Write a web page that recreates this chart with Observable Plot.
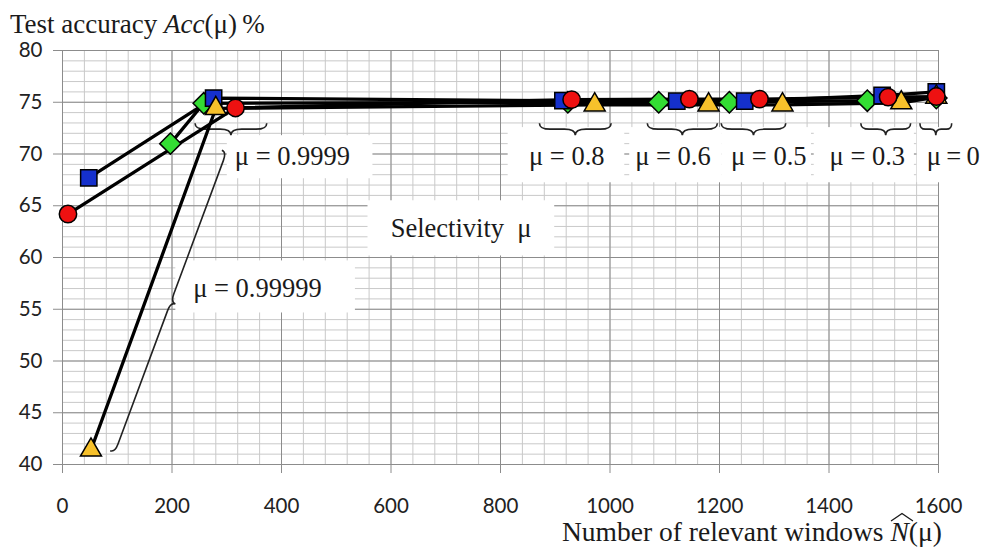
<!DOCTYPE html>
<html>
<head>
<meta charset="utf-8">
<script src="https://cdn.jsdelivr.net/npm/d3@7"></script>
<script src="https://cdn.jsdelivr.net/npm/@observablehq/plot@0.6"></script>
<style>
html, body { margin: 0; padding: 0; background: #fff; }
#wrap { position: relative; width: 982px; height: 548px; overflow: hidden; background: #fff; }
#chart { position: absolute; left: 0; top: 0; }
.serif { font-family: "Liberation Serif", "Times New Roman", serif; color: #1a1a1a; position: absolute; white-space: nowrap; line-height: 1; }
#title { left: 10px; top: 11px; font-size: 27px; }
#xlabel { left: 562px; top: 518px; font-size: 27.5px; }
.hat { position: relative; display: inline-block; font-style: italic; }
.hat svg { position: absolute; left: 1px; top: -5px; overflow: visible; }
#chart svg [aria-label="x-axis"] line, #chart svg [aria-label="y-axis"] line,
#chart svg [aria-label="x-axis tick"] path, #chart svg [aria-label="y-axis tick"] path { stroke: #8c8c8c; }
</style>
</head>
<body>
<div id="wrap">
  <div id="chart"></div>
  <div id="title" class="serif">Test accuracy <i>Acc</i>(μ)&#8201;%</div>
  <div id="xlabel" class="serif">Number of relevant windows <span class="hat">N<svg width="22" height="10"><path d="M0,8 Q6,4 11,0.5 Q16,4 22,8" fill="none" stroke="#1a1a1a" stroke-width="1.3"/></svg></span>(μ)</div>
</div>
<script>
// ---- data ----
const muLevels = ["0.99999", "0.9999", "0.8", "0.6", "0.5", "0.3", "0"];
const blueN    = [48, 276, 914, 1122, 1246, 1497, 1596];
const blueAcc  = [67.7, 75.4, 75.15, 75.1, 75.1, 75.65, 76.0];
const greenN   = [197, 258, 923, 1089, 1218, 1470, 1596];
const greenAcc = [71.0, 74.9, 75.0, 75.0, 75.0, 75.15, 75.4];
const yellowN  = [52, 280, 972, 1180, 1315, 1532, 1596];
const yellowAcc= [41.4, 74.4, 74.75, 74.75, 74.75, 74.95, 75.5];
const redN     = [10, 316, 930, 1145, 1273, 1508, 1596];
const redAcc   = [64.2, 74.45, 75.25, 75.3, 75.3, 75.5, 75.55];

const xTickValues = [0, 200, 400, 600, 800, 1000, 1200, 1400, 1600];
const yTickValues = [40, 45, 50, 55, 60, 65, 70, 75, 80];

// annotation texts and anchors (data coordinates)
const labelText = ["μ = 0.9999", "μ = 0.8", "μ = 0.6", "μ = 0.5", "μ = 0.3", "μ\u2009=\u20090", "Selectivity\u00a0\u00a0μ", "μ = 0.99999"];
const labelN    = [420, 921, 1115, 1290, 1470, 1627, 728, 356];
const labelAcc  = [69.8, 69.8, 69.8, 69.8, 69.8, 69.8, 62.77, 56.96];
// white label boxes (data coordinates)
const boxN1   = [301, 814, 1036, 1204, 1373, 1561, 558, 207];
const boxN2   = [567, 1027, 1204, 1368, 1556, 1680, 899, 535];
const boxAcc1 = [71.77, 72.55, 72.55, 72.55, 72.55, 72.55, 65.48, 59.67];
const boxAcc2 = [67.61, 67.22, 67.22, 67.22, 67.22, 67.22, 60.15, 54.64];
// braces: endpoints (data coordinates)
const braceN1   = [88, 243, 872, 1069, 1204, 1459, 1567];
const braceAcc1 = [41.28, 72.93, 72.93, 72.93, 72.93, 72.93, 72.93];
const braceN2   = [292, 374, 1003, 1197, 1322, 1550, 1625];
const braceAcc2 = [70.32, 72.93, 72.93, 72.93, 72.93, 72.93, 72.93];

// ---- build tables ----
const seriesDefs = [
  {name: "green",  N: greenN,  A: greenAcc,  symbol: "diamond2", fill: "#33dd33", r: 9.6},
  {name: "blue",   N: blueN,   A: blueAcc,   symbol: "square",   fill: "#1530cc", r: 9.2},
  {name: "yellow", N: yellowN, A: yellowAcc, symbol: "triangle", fill: "#f7c12b", r: 7.8},
  {name: "red",    N: redN,    A: redAcc,    symbol: "circle",   fill: "#ee1111", r: 8.7}
];
const rows = [];
for (const s of seriesDefs) s.N.forEach((n, i) => rows.push({series: s.name, mu: muLevels[i], n, acc: s.A[i]}));
const labels = labelText.map((t, i) => ({t, n: labelN[i], acc: labelAcc[i], n1: boxN1[i], n2: boxN2[i], a1: boxAcc1[i], a2: boxAcc2[i]}));
const braces = braceN1.map((n1, i) => ({n1, a1: braceAcc1[i], n2: braceN2[i], a2: braceAcc2[i]}));

const xMinor = d3.range(0, 1601, 40);
const yMinor = d3.range(40, 80.01, 1);

function bracePath(L, d) {
  const h = d / 2, m = L / 2, r = Math.min(d * 0.9, L / 6);
  return `M0,0 Q0,${h} ${r},${h} L${m - r},${h} Q${m},${h} ${m},${d} Q${m},${h} ${m + r},${h} L${L - r},${h} Q${L},${h} ${L},0`;
}
function braceMark(index, scales) {
  const g = d3.create("svg:g").attr("fill", "none").attr("stroke", "#222").attr("stroke-width", 1.6);
  braces.forEach((b, i) => {
    const x1 = scales.x(b.n1), y1 = scales.y(b.a1), x2 = scales.x(b.n2), y2 = scales.y(b.a2);
    const L = Math.hypot(x2 - x1, y2 - y1), ang = Math.atan2(y2 - y1, x2 - x1) * 180 / Math.PI;
    g.append("path").attr("transform", `translate(${x1},${y1}) rotate(${ang})`).attr("d", bracePath(L, i === 0 ? 10 : 12));
  });
  return g.node();
}

const chart = Plot.plot({
  width: 982,
  height: 548,
  marginLeft: 62,
  marginRight: 44,
  marginTop: 50,
  marginBottom: 84,
  style: {fontFamily: "Lato, sans-serif", fontSize: "20.5px", color: "#222", background: "white"},
  x: {domain: [0, 1600], ticks: xTickValues, tickFormat: d3.format("d"), tickSize: 9, tickPadding: 25, label: null},
  y: {domain: [40, 80], ticks: yTickValues, tickFormat: d3.format("d"), tickSize: 9, tickPadding: 11, label: null},
  marks: [
    Plot.ruleX(xMinor, {stroke: "#c9c9c9", strokeWidth: 1}),
    Plot.ruleY(yMinor, {stroke: "#c9c9c9", strokeWidth: 1}),
    Plot.ruleX(xTickValues, {stroke: "#8c8c8c", strokeWidth: 1}),
    Plot.ruleY(yTickValues, {stroke: "#8c8c8c", strokeWidth: 1}),
    Plot.rect(labels, {x1: "n1", x2: "n2", y1: "a1", y2: "a2", fill: "white"}),
    braceMark,
    Plot.line(rows, {x: "n", y: "acc", z: "series", stroke: "black", strokeWidth: 3.3}),
    ...seriesDefs.map(s => Plot.dot(rows.filter(d => d.series === s.name), {
      x: "n", y: "acc", symbol: () => s.symbol, fill: s.fill, stroke: "black", strokeWidth: 1.5, r: s.r
    })),
    Plot.text(labels, {x: "n", y: "acc", text: "t", fontSize: 26.5, fontFamily: "Liberation Serif, serif", fill: "#1a1a1a"})
  ]
});
document.getElementById("chart").appendChild(chart);
</script>
</body>
</html>
